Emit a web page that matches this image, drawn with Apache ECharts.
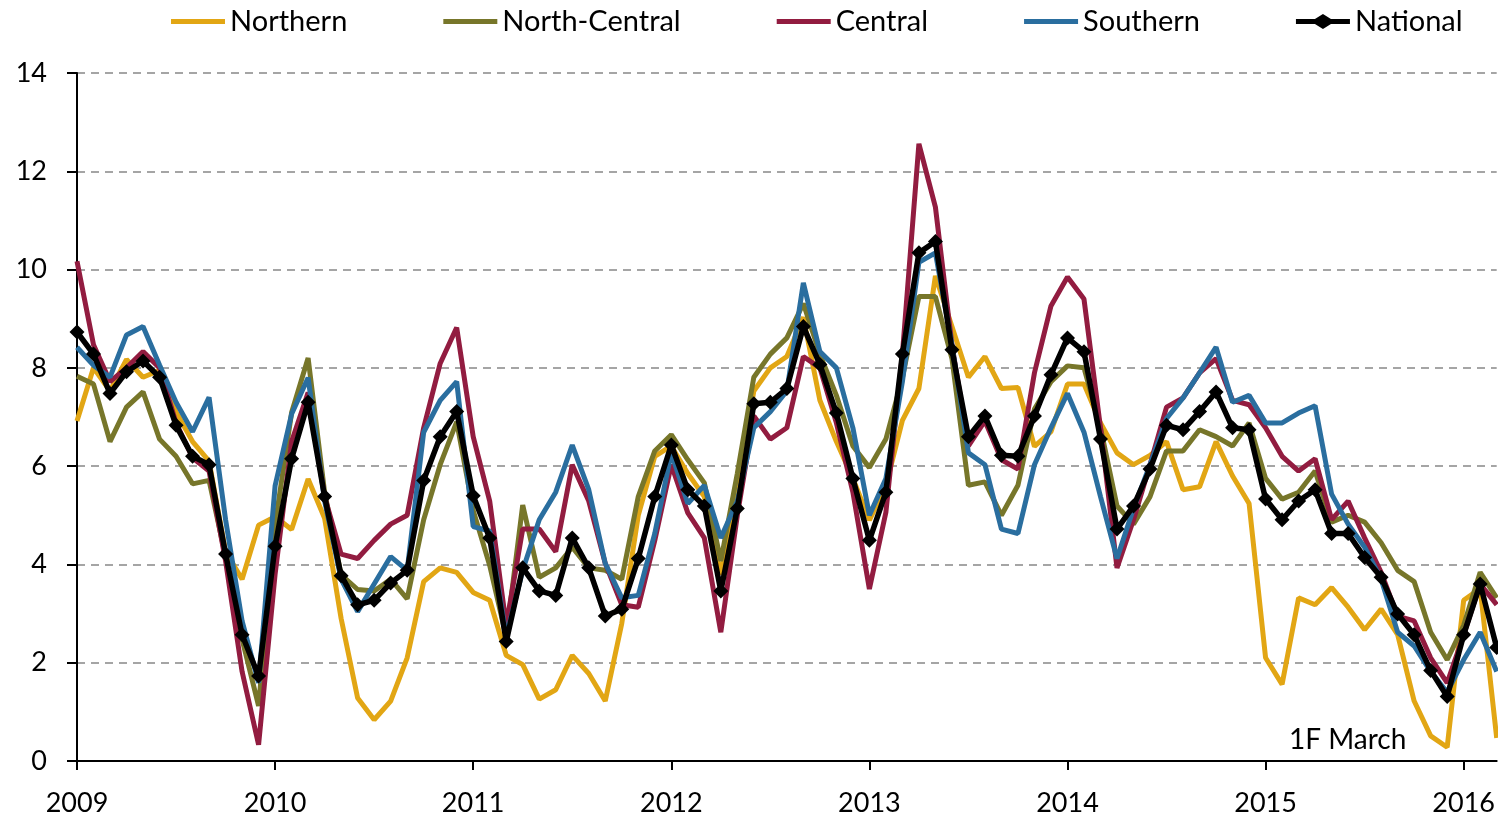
<!DOCTYPE html>
<html>
<head>
<meta charset="utf-8">
<script src="https://cdn.jsdelivr.net/npm/echarts@6/dist/echarts.min.js"></script>
<style>
	html, body { margin: 0; padding: 0; background: #fff; }
	#chart { width: 1498px; height: 818px; }
</style>
</head>
<body>
<div id="chart"></div>
<script>
// year labels on the x axis, one tick per January
var yearLabels = ['2009', '2010', '2011', '2012', '2013', '2014', '2015', '2016'];
var lastYearMonths = 3; // data runs to March 2016

// monthly values, Jan 2009 .. Mar 2016
var northern = [
	6.92, 8.0, 7.53, 8.17, 7.81, 7.95, 7.1, 6.5, 6.1, 4.26, 3.7, 4.8,
	4.97, 4.71, 5.74, 4.94, 2.9, 1.28, 0.84, 1.22, 2.1, 3.65, 3.93, 3.84,
	3.43, 3.27, 2.15, 1.96, 1.26, 1.45, 2.15, 1.78, 1.22, 2.8, 5.0, 6.2,
	6.41, 5.85, 5.38, 3.79, 5.47, 7.53, 8.0, 8.23, 9.03, 7.34, 6.5, 5.75,
	4.9, 5.6, 6.93, 7.58, 9.87, 8.84, 7.81, 8.23, 7.58, 7.6, 6.4, 6.7,
	7.67, 7.67, 6.88, 6.27, 6.03, 6.22, 6.5, 5.52, 5.58, 6.5, 5.8, 5.24,
	2.1, 1.56, 3.32, 3.18, 3.53, 3.13, 2.67, 3.09, 2.57, 1.22, 0.51, 0.28,
	3.27, 3.51, 0.47
];
var northCentral = [
	7.83, 7.67, 6.5, 7.2, 7.51, 6.55, 6.2, 5.64, 5.71, 4.16, 2.48, 1.12,
	4.8, 7.09, 8.2, 5.47, 3.79, 3.49, 3.46, 3.7, 3.3, 4.91, 6.03, 6.9,
	5.1, 3.98, 2.53, 5.21, 3.74, 3.93, 4.35, 3.93, 3.88, 3.7, 5.38, 6.31,
	6.64, 6.13, 5.66, 4.07, 5.85, 7.81, 8.28, 8.61, 9.31, 8.28, 7.44, 6.41,
	5.97, 6.55, 7.8, 9.45, 9.45, 8.19, 5.61, 5.68, 5.0, 5.61, 7.16, 7.72,
	8.04, 8.0, 6.78, 5.19, 4.82, 5.38, 6.31, 6.31, 6.74, 6.6, 6.41, 6.88,
	5.75, 5.33, 5.47, 5.9, 4.86, 5.0, 4.86, 4.44, 3.88, 3.65, 2.62, 2.06,
	2.76, 3.84, 3.32
];
var central = [
	10.17, 8.47, 7.72, 8.0, 8.33, 8.0, 6.88, 6.17, 5.9, 4.07, 1.82, 0.33,
	3.8, 6.5, 7.5, 5.38, 4.21, 4.12, 4.49, 4.82, 5.0, 6.78, 8.09, 8.82,
	6.6, 5.29, 2.76, 4.72, 4.72, 4.26, 6.03, 5.29, 4.02, 3.18, 3.13, 4.49,
	6.03, 5.05, 4.54, 2.62, 5.0, 7.02, 6.55, 6.78, 8.23, 8.0, 6.88, 5.47,
	3.5, 5.06, 8.28, 12.56, 11.27, 8.47, 6.41, 6.92, 6.13, 5.94, 7.9, 9.26,
	9.85, 9.4, 6.78, 3.93, 4.91, 6.03, 7.2, 7.39, 7.9, 8.19, 7.34, 7.25,
	6.78, 6.2, 5.9, 6.15, 4.91, 5.29, 4.54, 3.84, 2.95, 2.85, 2.1, 1.59,
	2.57, 3.6, 3.18
];
var southern = [
	8.42, 8.05, 7.81, 8.67, 8.84, 8.06, 7.3, 6.7, 7.4, 4.91, 2.85, 1.59,
	5.6, 7.06, 7.8, 5.29, 3.7, 3.04, 3.6, 4.16, 3.88, 6.69, 7.34, 7.72,
	4.77, 4.68, 2.53, 3.88, 4.91, 5.47, 6.43, 5.52, 4.02, 3.32, 3.37, 4.63,
	6.27, 5.24, 5.61, 4.54, 5.29, 6.78, 7.11, 7.53, 9.73, 8.33, 8.0, 6.78,
	5.0, 5.75, 7.72, 10.15, 10.34, 8.47, 6.27, 6.03, 4.72, 4.63, 6.03, 6.78,
	7.48, 6.69, 5.38, 4.12, 5.14, 6.03, 6.97, 7.39, 7.9, 8.42, 7.3, 7.44,
	6.88, 6.88, 7.08, 7.23, 5.43, 4.82, 4.35, 3.7, 2.62, 2.34, 1.82, 1.4,
	2.06, 2.62, 1.82
];
var national = [
	8.73, 8.28, 7.48, 7.92, 8.14, 7.81, 6.83, 6.2, 6.03, 4.21, 2.57, 1.73,
	4.37, 6.15, 7.3, 5.38, 3.77, 3.18, 3.27, 3.62, 3.88, 5.71, 6.6, 7.11,
	5.4, 4.54, 2.43, 3.93, 3.46, 3.37, 4.54, 3.93, 2.95, 3.09, 4.12, 5.38,
	6.43, 5.52, 5.19, 3.46, 5.14, 7.27, 7.3, 7.58, 8.84, 8.07, 7.08, 5.75,
	4.49, 5.47, 8.28, 10.34, 10.57, 8.37, 6.6, 7.02, 6.22, 6.2, 7.02, 7.86,
	8.61, 8.33, 6.55, 4.72, 5.19, 5.94, 6.83, 6.74, 7.11, 7.51, 6.78, 6.74,
	5.33, 4.91, 5.29, 5.52, 4.63, 4.63, 4.14, 3.74, 2.99, 2.57, 1.84, 1.31,
	2.57, 3.6, 2.31
];

// month categories built from the year labels
var months = [];
for (var y = 0; y < yearLabels.length; y++) {
	var n = (y === yearLabels.length - 1) ? lastYearMonths : 12;
	for (var m = 1; m <= n; m++) {
		months.push(yearLabels[y] + '-' + (m < 10 ? '0' + m : m));
	}
}

var font = 'Lato, "Open Sans", sans-serif';
var isJan = function(i) { return i % 12 === 0; };

// legend icons: plain bar, and bar with a diamond for National
var barIcon = 'path://M0,0 L54,0 L54,5 L0,5 Z';
var diamondIcon = 'path://M0,5 L19,5 L27,0 L35,5 L54,5 L54,10 L35,10 L27,15 L19,10 L0,10 Z';

var myChart = echarts.init(document.getElementById('chart'));

function lineSeries(name, data, color) {
	return {
		name: name,
		type: 'line',
		data: data,
		symbol: 'none',
		lineStyle: { color: color, width: 5 },
		itemStyle: { color: color },
		z: 2
	};
}

var option = {
	animation: false,
	textStyle: { fontFamily: font, color: '#000' },
	legend: {
		left: 166,
		top: 2,
		itemWidth: 54,
		itemHeight: 15,
		itemGap: 96,
		textStyle: { fontSize: 29, color: '#000', fontFamily: font },
		data: [
			{ name: 'Northern', icon: barIcon },
			{ name: 'North-Central', icon: barIcon },
			{ name: 'Central', icon: barIcon },
			{ name: 'Southern', icon: barIcon },
			{ name: 'National', icon: diamondIcon }
		]
	},
	grid: { left: 77, right: 1, top: 73, bottom: 57, containLabel: false },
	xAxis: {
		type: 'category',
		boundaryGap: false,
		data: months,
		axisLine: { lineStyle: { color: '#000', width: 2 } },
		axisTick: { show: true, interval: isJan, length: 9, lineStyle: { color: '#000', width: 2 } },
		axisLabel: {
			interval: isJan,
			margin: 29,
			fontSize: 27,
			color: '#000',
			fontFamily: font,
			formatter: function(v) { return v.slice(0, 4); }
		},
		splitLine: { show: false }
	},
	yAxis: {
		type: 'value',
		min: 0,
		max: 14,
		interval: 2,
		axisLine: { show: true, lineStyle: { color: '#000', width: 2 } },
		axisTick: { show: true, length: 10, lineStyle: { color: '#000', width: 2 } },
		axisLabel: { margin: 30, fontSize: 27, color: '#000', fontFamily: font },
		splitLine: { show: true, lineStyle: { color: '#888', width: 1.5, type: [8, 6] } }
	},
	graphic: [{
		type: 'text',
		left: 1289,
		top: 726,
		style: { text: '1F March', fontSize: 28, fill: '#000', fontFamily: font }
	}],
	series: [
		lineSeries('Northern', northern, '#E2A614'),
		lineSeries('North-Central', northCentral, '#77762A'),
		lineSeries('Central', central, '#921C40'),
		lineSeries('Southern', southern, '#2A6E9F'),
		{
			name: 'National',
			type: 'line',
			data: national,
			symbol: 'diamond',
			symbolSize: 15,
			showAllSymbol: true,
			lineStyle: { color: '#000', width: 5.5 },
			itemStyle: { color: '#000' },
			z: 5
		}
	]
};

myChart.setOption(option);
</script>
</body>
</html>
